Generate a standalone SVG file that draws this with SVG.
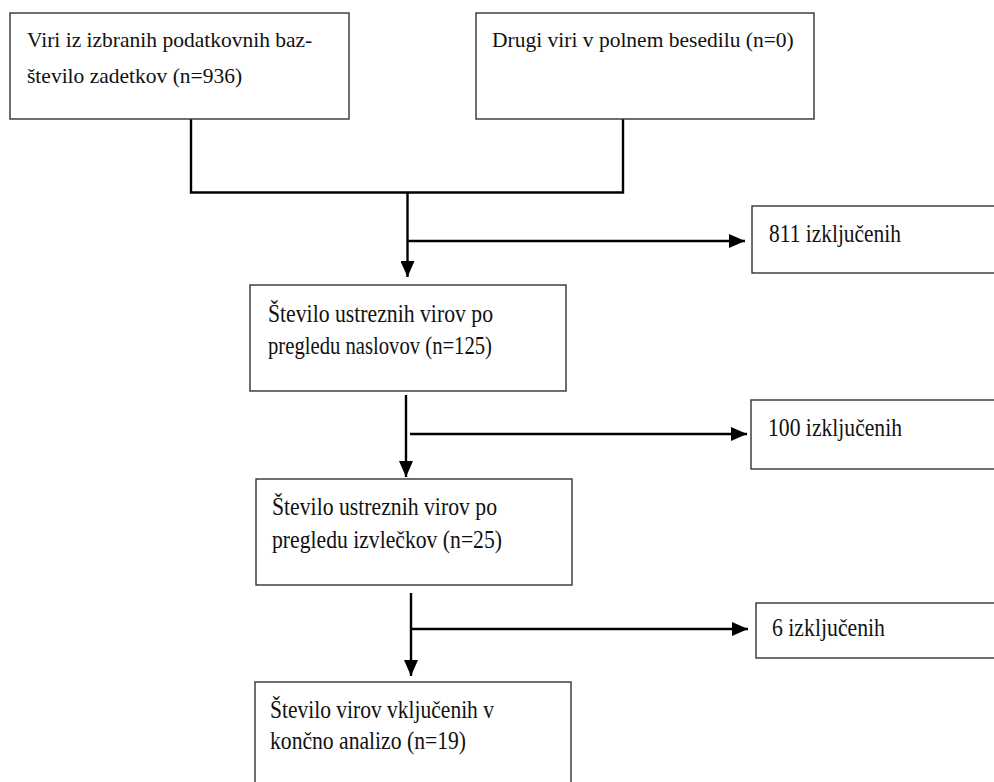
<svg xmlns="http://www.w3.org/2000/svg" width="994" height="782" viewBox="0 0 994 782">
  <style>
    .box { fill: #ffffff; stroke: #333333; stroke-width: 1.4; }
    text { font-family: 'Liberation Serif', 'DejaVu Serif', serif; fill: #111111; }
    .t1 { font-size: 21.5px; }
    .t2 { font-size: 26px; }
    .ln { fill: none; stroke: #000000; stroke-width: 2.4; }
  </style>
  <defs>
    <marker id="arr" markerUnits="userSpaceOnUse" markerWidth="16" markerHeight="14" refX="16" refY="7" orient="auto">
      <path d="M0,0 L16,7 L0,14 z" fill="#000000"/>
    </marker>
  </defs>
  <rect width="994" height="782" fill="#ffffff"/>

  <g id="connectors">
    <polyline class="ln" points="191,119 191,192.5 623,192.5 623,119"/>
    <line class="ln" x1="407.5" y1="192.5" x2="407.5" y2="277" marker-end="url(#arr)"/>
    <line class="ln" x1="407.5" y1="241" x2="745" y2="241" marker-end="url(#arr)"/>
    <line class="ln" x1="406" y1="395" x2="406" y2="477" marker-end="url(#arr)"/>
    <line class="ln" x1="410" y1="434" x2="747" y2="434" marker-end="url(#arr)"/>
    <line class="ln" x1="411" y1="593" x2="411" y2="676" marker-end="url(#arr)"/>
    <line class="ln" x1="411" y1="629" x2="748" y2="629" marker-end="url(#arr)"/>
  </g>

  <g id="node-baze">
    <rect class="box" x="10" y="13" width="339" height="106"/>
    <text class="t1" x="27" y="47">Viri iz izbranih podatkovnih baz-</text>
    <text class="t1" x="27" y="83">število zadetkov (n=936)</text>
  </g>
  <g id="node-drugi">
    <rect class="box" x="476" y="13" width="338" height="106"/>
    <text class="t1" x="492" y="47">Drugi viri v polnem besedilu (n=0)</text>
  </g>
  <g id="node-izkl-811">
    <rect class="box" x="752" y="206" width="260" height="67"/>
    <text class="t2" x="769" y="242" textLength="132" lengthAdjust="spacingAndGlyphs">811 izključenih</text>
  </g>
  <g id="node-naslovi">
    <rect class="box" x="250" y="285" width="316" height="106"/>
    <text class="t2" x="268" y="322" textLength="225" lengthAdjust="spacingAndGlyphs">Število ustreznih virov po</text>
    <text class="t2" x="268" y="354" textLength="224" lengthAdjust="spacingAndGlyphs">pregledu naslovov (n=125)</text>
  </g>
  <g id="node-izkl-100">
    <rect class="box" x="751" y="400" width="260" height="69"/>
    <text class="t2" x="768" y="436" textLength="134" lengthAdjust="spacingAndGlyphs">100 izključenih</text>
  </g>
  <g id="node-izvlecki">
    <rect class="box" x="256" y="479" width="316" height="106"/>
    <text class="t2" x="272" y="515" textLength="225" lengthAdjust="spacingAndGlyphs">Število ustreznih virov po</text>
    <text class="t2" x="272" y="548" textLength="230" lengthAdjust="spacingAndGlyphs">pregledu izvlečkov (n=25)</text>
  </g>
  <g id="node-izkl-6">
    <rect class="box" x="756" y="603" width="260" height="55"/>
    <text class="t2" x="772" y="636" textLength="113" lengthAdjust="spacingAndGlyphs">6 izključenih</text>
  </g>
  <g id="node-koncno">
    <rect class="box" x="255" y="682" width="316" height="130"/>
    <text class="t2" x="270" y="718" textLength="224" lengthAdjust="spacingAndGlyphs">Število virov vključenih v</text>
    <text class="t2" x="270" y="749" textLength="196" lengthAdjust="spacingAndGlyphs">končno analizo (n=19)</text>
  </g>
</svg>
